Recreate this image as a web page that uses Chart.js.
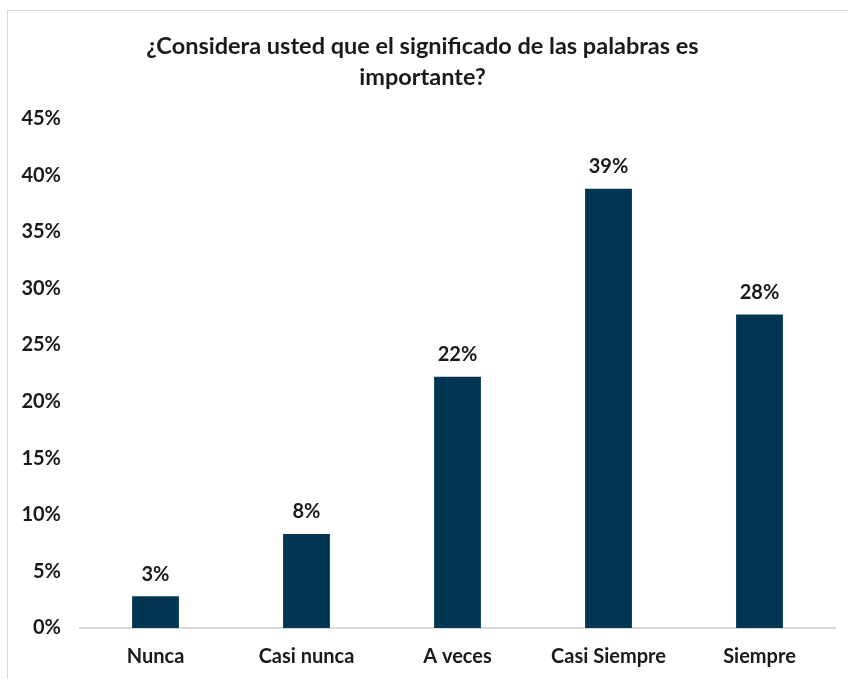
<!DOCTYPE html>
<html>
<head>
<meta charset="utf-8">
<script src="https://cdn.jsdelivr.net/npm/chart.js@4/dist/chart.umd.min.js"></script>
<style>
  html, body { margin: 0; padding: 0; background: #fff; }
  #wrap { position: relative; width: 848px; height: 679px; }
  #frame { position: absolute; left: 7px; top: 10px; right: 0; bottom: 0; border-left: 1px solid #d9d9d9; border-top: 1px solid #d9d9d9; }
  canvas { position: absolute; left: 0; top: 0; }
</style>
</head>
<body>
<div id="wrap">
  <div id="frame"></div>
  <canvas id="c" width="848" height="679"></canvas>
</div>
<script>
const titleLines = ['¿Considera usted que el significado de las palabras es', 'importante?'];
const categories = ['Nunca', 'Casi nunca', 'A veces', 'Casi Siempre', 'Siempre'];
const values = [2.8, 8.3, 22.2, 38.8, 27.7];
const valueLabels = ['3%', '8%', '22%', '39%', '28%'];

const FONT = 'Lato, "Open Sans", sans-serif';

const barLabels = {
  id: 'barLabels',
  afterDatasetsDraw(chart) {
    const ctx = chart.ctx;
    const meta = chart.getDatasetMeta(0);
    ctx.save();
    ctx.font = 'bold 20px ' + FONT;
    ctx.fillStyle = '#1a1a1a';
    ctx.textAlign = 'center';
    ctx.textBaseline = 'middle';
    meta.data.forEach((bar, i) => {
      ctx.fillText(valueLabels[i], bar.x, bar.y - 22);
    });
    ctx.restore();
  }
};

new Chart(document.getElementById('c'), {
  type: 'bar',
  data: {
    labels: categories,
    datasets: [{
      data: values,
      backgroundColor: '#003651',
      borderWidth: 0,
      categoryPercentage: 1,
      barPercentage: 0.31
    }]
  },
  options: {
    responsive: false,
    animation: false,
    layout: { padding: { left: 10, right: 13, top: 10, bottom: 0 } },
    plugins: {
      legend: { display: false },
      tooltip: { enabled: false },
      title: {
        display: true,
        text: titleLines,
        color: '#1a1a1a',
        font: { family: FONT, size: 23.5, weight: 'bold', lineHeight: 1.33 },
        padding: { top: 21, bottom: 25 }
      }
    },
    scales: {
      x: {
        grid: { display: false },
        border: { display: true, color: '#d9d9d9', width: 2 },
        afterFit(scale) { scale.height = 51; },
        ticks: { color: '#1a1a1a', font: { family: FONT, size: 20, weight: 'bold' }, padding: 9 }
      },
      y: {
        min: 0, max: 45,
        grid: { display: false },
        border: { display: false },
        afterFit(scale) { scale.width = 70; },
        ticks: {
          stepSize: 5,
          padding: 11,
          color: '#1a1a1a',
          font: { family: FONT, size: 20, weight: 'bold' },
          callback: v => v + '%'
        }
      }
    }
  },
  plugins: [barLabels]
});
</script>
</body>
</html>
